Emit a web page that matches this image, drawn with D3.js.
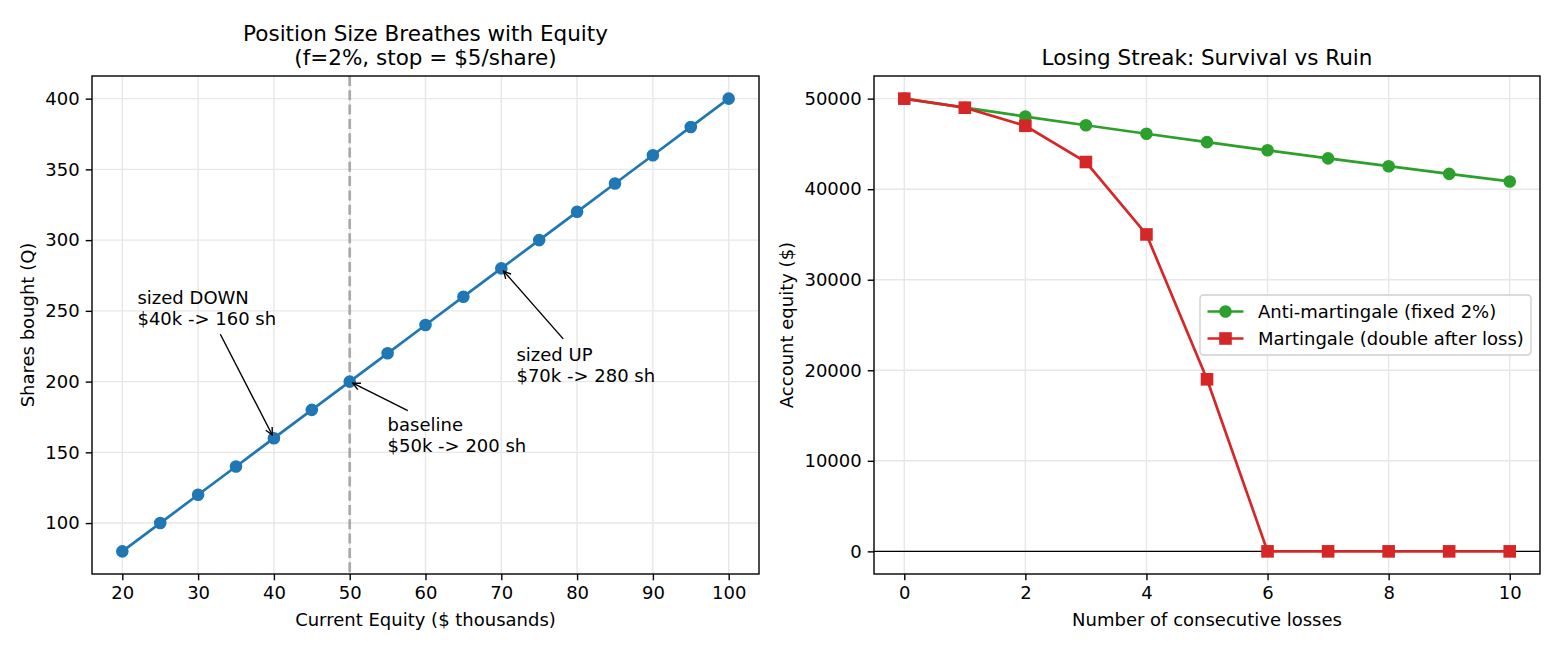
<!DOCTYPE html>
<html><head><meta charset="utf-8">
<script src="https://cdn.jsdelivr.net/npm/d3@7"></script>
<style>
html,body{margin:0;padding:0;background:#fff;}
svg{display:block;font-family:"DejaVu Sans",sans-serif;}
</style></head>
<body>
<svg id="c" width="1560" height="650"></svg>
<script>
// ---------- data ----------
const equityK = [20,25,30,35,40,45,50,55,60,65,70,75,80,85,90,95,100];
const sharesQ = [80,100,120,140,160,180,200,220,240,260,280,300,320,340,360,380,400];
const leftXTicks = [20,30,40,50,60,70,80,90,100];
const leftYTicks = [100,150,200,250,300,350,400];
const baselineEquity = 50;
const annotations = [
  {lines:["sized DOWN","$40k -> 160 sh"], xy:[40,160], xytext:[22,240]},
  {lines:["baseline","$50k -> 200 sh"], xy:[50,200], xytext:[55,150]},
  {lines:["sized UP","$70k -> 280 sh"], xy:[70,280], xytext:[72,200]}
];

const losses = [0,1,2,3,4,5,6,7,8,9,10];
const antiMartingale = [50000,49000,48020,47060,46118,45196,44292,43406,42538,41687,40854];
const martingale = [50000,49000,47000,43000,35000,19000,0,0,0,0,0];
const rightXTicks = [0,2,4,6,8,10];
const rightYTicks = [0,10000,20000,30000,40000,50000];
const seriesNames = ["Anti-martingale (fixed 2%)","Martingale (double after loss)"];

// ---------- style ----------
const FS = 18, TFS = 21.5;
const svg = d3.select("#c");
const gridColor = "#e7e7e7";

function panel(box, xDom, yDom, xTicks, yTicks, title, xlabel, ylabel, ylabX){
  const x = d3.scaleLinear().domain(xDom).range([box.l, box.r]);
  const y = d3.scaleLinear().domain(yDom).range([box.b, box.t]);
  const g = svg.append("g");
  // grid
  g.append("g").selectAll("line").data(xTicks).join("line")
    .attr("x1",d=>x(d)).attr("x2",d=>x(d)).attr("y1",box.t).attr("y2",box.b)
    .attr("stroke",gridColor).attr("stroke-width",1.4);
  g.append("g").selectAll("line").data(yTicks).join("line")
    .attr("y1",d=>y(d)).attr("y2",d=>y(d)).attr("x1",box.l).attr("x2",box.r)
    .attr("stroke",gridColor).attr("stroke-width",1.4);
  // axes
  const xa = g.append("g").attr("transform",`translate(0,${box.b})`)
    .call(d3.axisBottom(x).tickValues(xTicks).tickSize(6.3).tickPadding(6).tickFormat(d3.format("d")));
  const ya = g.append("g").attr("transform",`translate(${box.l},0)`)
    .call(d3.axisLeft(y).tickValues(yTicks).tickSize(6.3).tickPadding(6).tickFormat(d3.format("d")));
  [xa,ya].forEach(a=>{
    a.select(".domain").remove();
    a.selectAll("line").attr("stroke","#000").attr("stroke-width",1.4);
    a.selectAll("text").attr("font-size",FS).attr("fill","#000").attr("font-family","DejaVu Sans");
  });
  // labels
  g.append("text").attr("x",(box.l+box.r)/2).attr("y",626).attr("text-anchor","middle")
    .attr("font-size",FS).text(xlabel);
  g.append("text").attr("transform",`translate(${ylabX},${(box.t+box.b)/2}) rotate(-90)`)
    .attr("text-anchor","middle").attr("dy","0.35em").attr("font-size",FS).text(ylabel);
  const tl = title.length;
  title.forEach((t,i)=>{
    g.append("text").attr("x",(box.l+box.r)/2).attr("y",box.t-11-(tl-1-i)*24.5)
      .attr("text-anchor","middle").attr("font-size",TFS).text(t);
  });
  const data = g.append("g");
  svg.append("rect").attr("x",box.l).attr("y",box.t)
    .attr("width",box.r-box.l).attr("height",box.b-box.t)
    .attr("fill","none").attr("stroke","#000").attr("stroke-width",1.4);
  return {x,y,g:data,box};
}

// ---------- left panel ----------
const L = panel({l:92,r:759,t:76,b:574},[16,104],[64,416],leftXTicks,leftYTicks,
  ["Position Size Breathes with Equity","(f=2%, stop = $5/share)"],
  "Current Equity ($ thousands)","Shares bought (Q)",28);
// dashed baseline
L.g.append("line").attr("x1",L.x(baselineEquity)).attr("x2",L.x(baselineEquity))
  .attr("y1",L.box.t).attr("y2",L.box.b)
  .attr("stroke","#999").attr("stroke-opacity",0.8).attr("stroke-width",2.7)
  .attr("stroke-dasharray","10,4.3");
const leftPts = equityK.map((e,i)=>[e,sharesQ[i]]);
L.g.append("path").datum(leftPts)
  .attr("d",d3.line().x(d=>L.x(d[0])).y(d=>L.y(d[1])))
  .attr("fill","none").attr("stroke","#1f77b4").attr("stroke-width",2.7);
L.g.selectAll("circle.p").data(leftPts).join("circle")
  .attr("cx",d=>L.x(d[0])).attr("cy",d=>L.y(d[1])).attr("r",5.4)
  .attr("fill","#1f77b4").attr("stroke","#1f77b4").attr("stroke-width",1.8);

// annotations
annotations.forEach(a=>{
  const tx = L.x(a.xytext[0]), ty = L.y(a.xytext[1]);
  const tg = L.g.append("g");
  const n = a.lines.length;
  a.lines.forEach((ln,i)=>{
    tg.append("text").attr("x",tx).attr("y",ty-(n-1-i)*21).attr("font-size",FS).text(ln);
  });
  const bb = tg.node().getBBox();
  const pad = 2;
  const bx0 = bb.x-pad, bx1 = bb.x+bb.width+pad, by0 = bb.y-pad, by1 = bb.y+bb.height+pad;
  const cx = (bx0+bx1)/2, cy = (by0+by1)/2;
  const px = L.x(a.xy[0]), py = L.y(a.xy[1]);
  const dx = px-cx, dy = py-cy;
  let t = 1;
  if (dx !== 0) t = Math.min(t, ((dx>0?bx1:bx0)-cx)/dx);
  if (dy !== 0) t = Math.min(t, ((dy>0?by1:by0)-cy)/dy);
  let sx = cx+dx*t, sy = cy+dy*t;
  const len = Math.hypot(px-sx, py-sy);
  const ux = (px-sx)/len, uy = (py-sy)/len;
  sx += ux*3.6; sy += uy*3.6;
  const ex = px-ux*3.6, ey = py-uy*3.6;
  L.g.append("line").attr("x1",sx).attr("y1",sy).attr("x2",ex).attr("y2",ey)
    .attr("stroke","#000").attr("stroke-width",1.4);
  const hl = 7.2, hw = 3.6;
  const bxp = ex-ux*hl, byp = ey-uy*hl;
  L.g.append("path")
    .attr("d",`M${bxp-uy*hw},${byp+ux*hw}L${ex},${ey}L${bxp+uy*hw},${byp-ux*hw}`)
    .attr("fill","none").attr("stroke","#000").attr("stroke-width",1.4);
});

// ---------- right panel ----------
const R = panel({l:874,r:1540,t:76,b:574},[-0.5,10.5],[-2500,52500],rightXTicks,rightYTicks,
  ["Losing Streak: Survival vs Ruin"],
  "Number of consecutive losses","Account equity ($)",787);
R.g.append("line").attr("x1",R.box.l).attr("x2",R.box.r)
  .attr("y1",R.y(0)).attr("y2",R.y(0)).attr("stroke","#000").attr("stroke-width",1.2);
const lineGen = d3.line().x(d=>R.x(d[0])).y(d=>R.y(d[1]));
const greenPts = losses.map((n,i)=>[n,antiMartingale[i]]);
const redPts = losses.map((n,i)=>[n,martingale[i]]);
R.g.append("path").datum(greenPts).attr("d",lineGen)
  .attr("fill","none").attr("stroke","#2ca02c").attr("stroke-width",2.7);
R.g.selectAll("circle.g").data(greenPts).join("circle")
  .attr("cx",d=>R.x(d[0])).attr("cy",d=>R.y(d[1])).attr("r",5.4)
  .attr("fill","#2ca02c").attr("stroke","#2ca02c").attr("stroke-width",1.8);
R.g.append("path").datum(redPts).attr("d",lineGen)
  .attr("fill","none").attr("stroke","#d62728").attr("stroke-width",2.7);
R.g.selectAll("rect.r").data(redPts).join("rect")
  .attr("x",d=>R.x(d[0])-5.4).attr("y",d=>R.y(d[1])-5.4).attr("width",10.8).attr("height",10.8)
  .attr("fill","#d62728").attr("stroke","#d62728").attr("stroke-width",1.8);

// legend
const lg = svg.append("g");
const lgW = 331, lgH = 60, lgR = 1531, lgCy = (R.box.t+R.box.b)/2;
lg.append("rect").attr("x",lgR-lgW).attr("y",lgCy-lgH/2).attr("width",lgW).attr("height",lgH)
  .attr("rx",3.5).attr("fill","#fff").attr("fill-opacity",0.8)
  .attr("stroke","#d0d0d0").attr("stroke-width",1.4);
const legColors = ["#2ca02c","#d62728"];
seriesNames.forEach((name,i)=>{
  const yy = lgCy-13.5+i*27;
  const x0 = lgR-lgW+7.5;
  lg.append("line").attr("x1",x0).attr("x2",x0+36).attr("y1",yy).attr("y2",yy)
    .attr("stroke",legColors[i]).attr("stroke-width",2.7);
  if(i===0){
    lg.append("circle").attr("cx",x0+18).attr("cy",yy).attr("r",5.4)
      .attr("fill",legColors[i]).attr("stroke",legColors[i]).attr("stroke-width",1.8);
  } else {
    lg.append("rect").attr("x",x0+18-5.4).attr("y",yy-5.4).attr("width",10.8).attr("height",10.8)
      .attr("fill",legColors[i]).attr("stroke",legColors[i]).attr("stroke-width",1.8);
  }
  lg.append("text").attr("x",x0+50.5).attr("y",yy).attr("dy","0.35em")
    .attr("font-size",FS).text(name);
});
</script>
</body></html>
